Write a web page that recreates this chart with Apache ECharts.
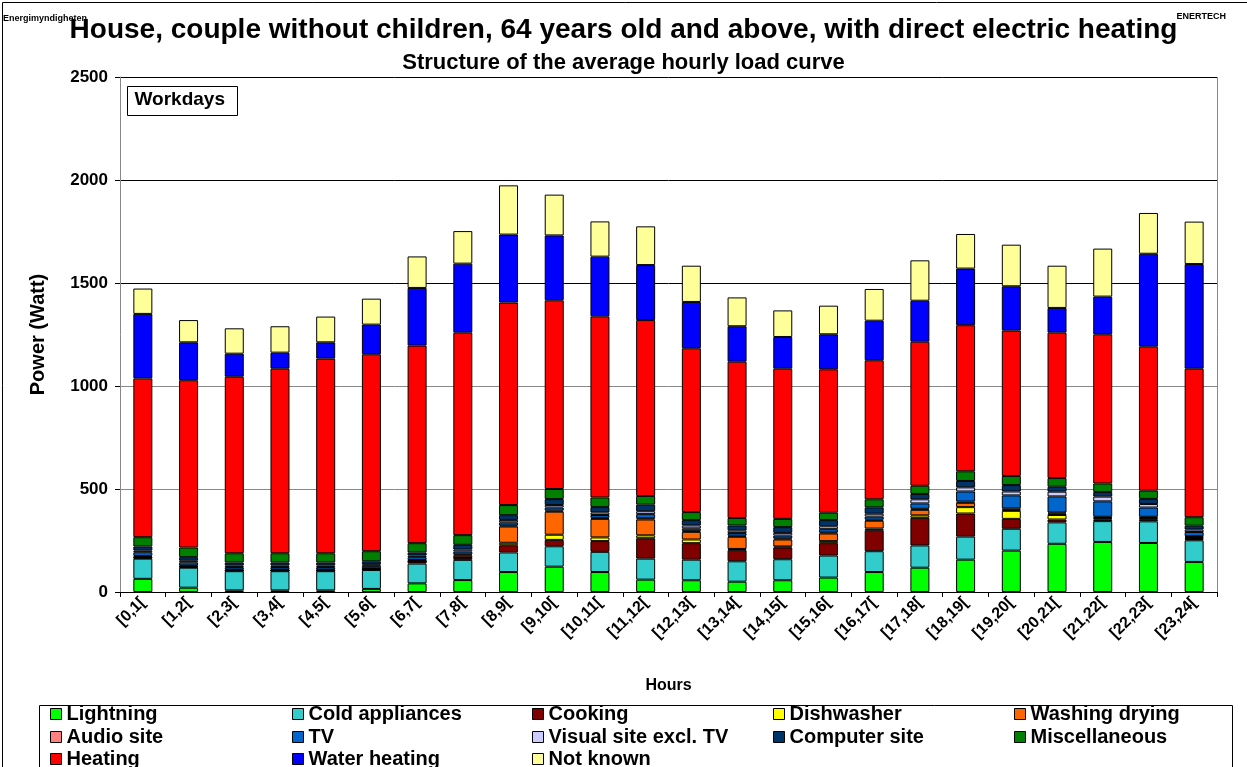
<!DOCTYPE html>
<html>
<head>
<meta charset="utf-8">
<script src="https://cdn.jsdelivr.net/npm/echarts@6/dist/echarts.min.js"></script>
<style>
html,body{margin:0;padding:0;background:#fff;}
#chart{width:1247px;height:767px;}
</style>
</head>
<body>
<div id="chart"></div>
<script>
const hours = ['[0,1[','[1,2[','[2,3[','[3,4[','[4,5[','[5,6[','[6,7[','[7,8[','[8,9[','[9,10[','[10,11[','[11,12[','[12,13[','[13,14[','[14,15[','[15,16[','[16,17[','[17,18[','[18,19[','[19,20[','[20,21[','[21,22[','[22,23[','[23,24['];
const yTicks = [0, 500, 1000, 1500, 2000, 2500];

const lightning     = [64, 21, 8, 8, 8, 15, 42, 58, 97, 123, 97, 60, 57, 50, 57, 70, 97, 118, 157, 201, 234, 243, 238, 146];
const coldAppliances= [98, 97, 93, 93, 93, 92, 96, 98, 95, 99, 98, 102, 100, 99, 102, 107, 101, 108, 112, 106, 104, 101, 105, 105];
const cooking       = [4, 4, 3, 3, 3, 3, 10, 10, 35, 31, 52, 99, 80, 54, 57, 60, 102, 134, 112, 48, 14, 8, 8, 6];
const dishwasher    = [1, 1, 0, 0, 0, 0, 1, 2, 12, 25, 18, 14, 18, 6, 5, 10, 8, 12, 31, 39, 22, 5, 5, 6];
const washingDrying = [3, 2, 2, 2, 2, 2, 3, 10, 79, 112, 90, 77, 37, 59, 34, 37, 38, 27, 21, 5, 7, 3, 4, 4];
const audioSite     = [5, 4, 3, 3, 3, 3, 3, 4, 5, 5, 5, 6, 5, 5, 5, 5, 5, 5, 6, 7, 5, 5, 5, 4];
const tv            = [18, 15, 12, 12, 12, 12, 14, 14, 15, 15, 14, 20, 12, 13, 14, 16, 15, 26, 49, 63, 78, 75, 45, 20];
const visualSite    = [8, 8, 8, 8, 8, 8, 8, 10, 12, 12, 12, 14, 14, 12, 13, 14, 14, 20, 20, 19, 23, 23, 17, 12];
const computerSite  = [20, 17, 14, 14, 14, 14, 15, 23, 23, 29, 26, 32, 26, 25, 28, 30, 31, 26, 31, 31, 24, 22, 25, 19];
const miscellaneous = [45, 47, 45, 45, 45, 49, 45, 47, 49, 49, 47, 42, 39, 36, 40, 36, 39, 40, 47, 44, 42, 42, 40, 41];
const heating       = [771, 812, 857, 896, 945, 956, 959, 983, 983, 916, 879, 854, 795, 759, 729, 696, 675, 699, 709, 706, 706, 724, 699, 721];
const waterHeating  = [313, 184, 112, 78, 79, 144, 280, 335, 330, 315, 290, 267, 225, 172, 154, 170, 192, 199, 275, 215, 120, 183, 451, 508];
const notKnown      = [123, 108, 123, 128, 125, 126, 153, 158, 239, 198, 171, 188, 176, 140, 129, 139, 154, 196, 168, 202, 205, 233, 198, 206];

const seriesDefs = [
  ['Lightning', lightning, '#00FF00'],
  ['Cold appliances', coldAppliances, '#33CCCC'],
  ['Cooking', cooking, '#800000'],
  ['Dishwasher', dishwasher, '#FFFF00'],
  ['Washing drying', washingDrying, '#FF6600'],
  ['Audio site', audioSite, '#FF8080'],
  ['TV', tv, '#0066CC'],
  ['Visual site excl. TV', visualSite, '#CCCCFF'],
  ['Computer site', computerSite, '#003366'],
  ['Miscellaneous', miscellaneous, '#008000'],
  ['Heating', heating, '#FF0000'],
  ['Water heating', waterHeating, '#0000FF'],
  ['Not known', notKnown, '#FFFF99']
];

const FONT = '"Liberation Sans", Arial, sans-serif';
const chart = echarts.init(document.getElementById('chart'), null, {renderer: 'canvas'});

const legendColX = [50, 292, 532, 773, 1014];
const legendRowY = [704, 727, 749];

const legends = seriesDefs.map(([name], i) => ({
  data: [name], orient: 'horizontal',
  left: legendColX[i % 5], top: legendRowY[Math.floor(i / 5)], padding: 0,
  icon: 'rect', itemWidth: 11, itemHeight: 11,
  itemStyle: {borderColor: '#000', borderWidth: 1},
  textStyle: {fontFamily: FONT, fontWeight: 'bold', fontSize: 20, color: '#000', lineHeight: 20},
  selectedMode: false
}));

const option = {
  backgroundColor: '#fff',
  animation: false,
  title: [
    {text: 'House, couple without children, 64 years old and above, with direct electric heating', left: 'center', top: 11,
     textStyle: {fontFamily: FONT, fontWeight: 'bold', fontSize: 28, color: '#000'}},
    {text: 'Structure of the average hourly load curve', left: 'center', top: 47,
     textStyle: {fontFamily: FONT, fontWeight: 'bold', fontSize: 22, color: '#000'}}
  ],
  legend: legends,
  grid: {left: 120, right: 30, top: 77, bottom: 175, containLabel: false},
  xAxis: {
    type: 'category', data: hours,
    name: 'Hours', nameLocation: 'middle', nameGap: 86,
    nameTextStyle: {fontFamily: FONT, fontWeight: 'bold', fontSize: 16, color: '#000'},
    axisLine: {lineStyle: {color: '#000', width: 1}},
    axisTick: {show: true, length: 5, lineStyle: {color: '#000'}},
    axisLabel: {rotate: 45, interval: 0, fontFamily: FONT, fontWeight: 'bold', fontSize: 16, color: '#000', margin: 8}
  },
  yAxis: {
    type: 'value', min: yTicks[0], max: yTicks[yTicks.length - 1], interval: yTicks[1] - yTicks[0],
    name: 'Power (Watt)', nameLocation: 'middle', nameGap: 72, nameRotate: 90,
    nameTextStyle: {fontFamily: FONT, fontWeight: 'bold', fontSize: 20, color: '#000'},
    axisLine: {show: true, lineStyle: {color: '#888', width: 1}},
    axisTick: {show: true, length: 5, inside: false, lineStyle: {color: '#000'}},
    axisLabel: {fontFamily: FONT, fontWeight: 'bold', fontSize: 17, color: '#000', margin: 12, formatter: v => String(v)},
    splitLine: {show: true, lineStyle: {color: ['#888', '#888', '#888', '#000', '#000', '#000'], width: 1}}
  },
  graphic: [
    {type: 'rect', left: 0, top: 0, shape: {width: 1246, height: 766}, style: {fill: 'none', stroke: '#000', lineWidth: 1}, z: 100},
    {type: 'line', shape: {x1: 1217.5, y1: 77, x2: 1217.5, y2: 592}, style: {stroke: '#888', lineWidth: 1}, z: 50},
    {type: 'text', left: 3, top: 14, style: {text: 'Energimyndigheten', font: 'bold 9px ' + FONT, fill: '#000'}, z: 101},
    {type: 'text', right: 21, top: 12, style: {text: 'ENERTECH', font: 'bold 9px ' + FONT, fill: '#000'}, z: 101},
    {type: 'group', left: 127, top: 86, z: 60, children: [
      {type: 'rect', shape: {x: 0, y: 0, width: 110, height: 29}, style: {fill: '#fff', stroke: '#000', lineWidth: 1}},
      {type: 'text', x: 7, y: 4, style: {text: 'Workdays', font: 'bold 19px ' + FONT, fill: '#000'}}
    ]},
    {type: 'rect', left: 37, top: 703, shape: {width: 1193, height: 80}, style: {fill: 'none', stroke: '#000', lineWidth: 1}, z: 40}
  ],
  series: seriesDefs.map(([name, data, color]) => ({
    name, type: 'bar', stack: 'total', data, barWidth: 19,
    itemStyle: {color, borderColor: '#000', borderWidth: 1},
    emphasis: {disabled: true}
  }))
};
chart.setOption(option);
</script>
</body>
</html>
